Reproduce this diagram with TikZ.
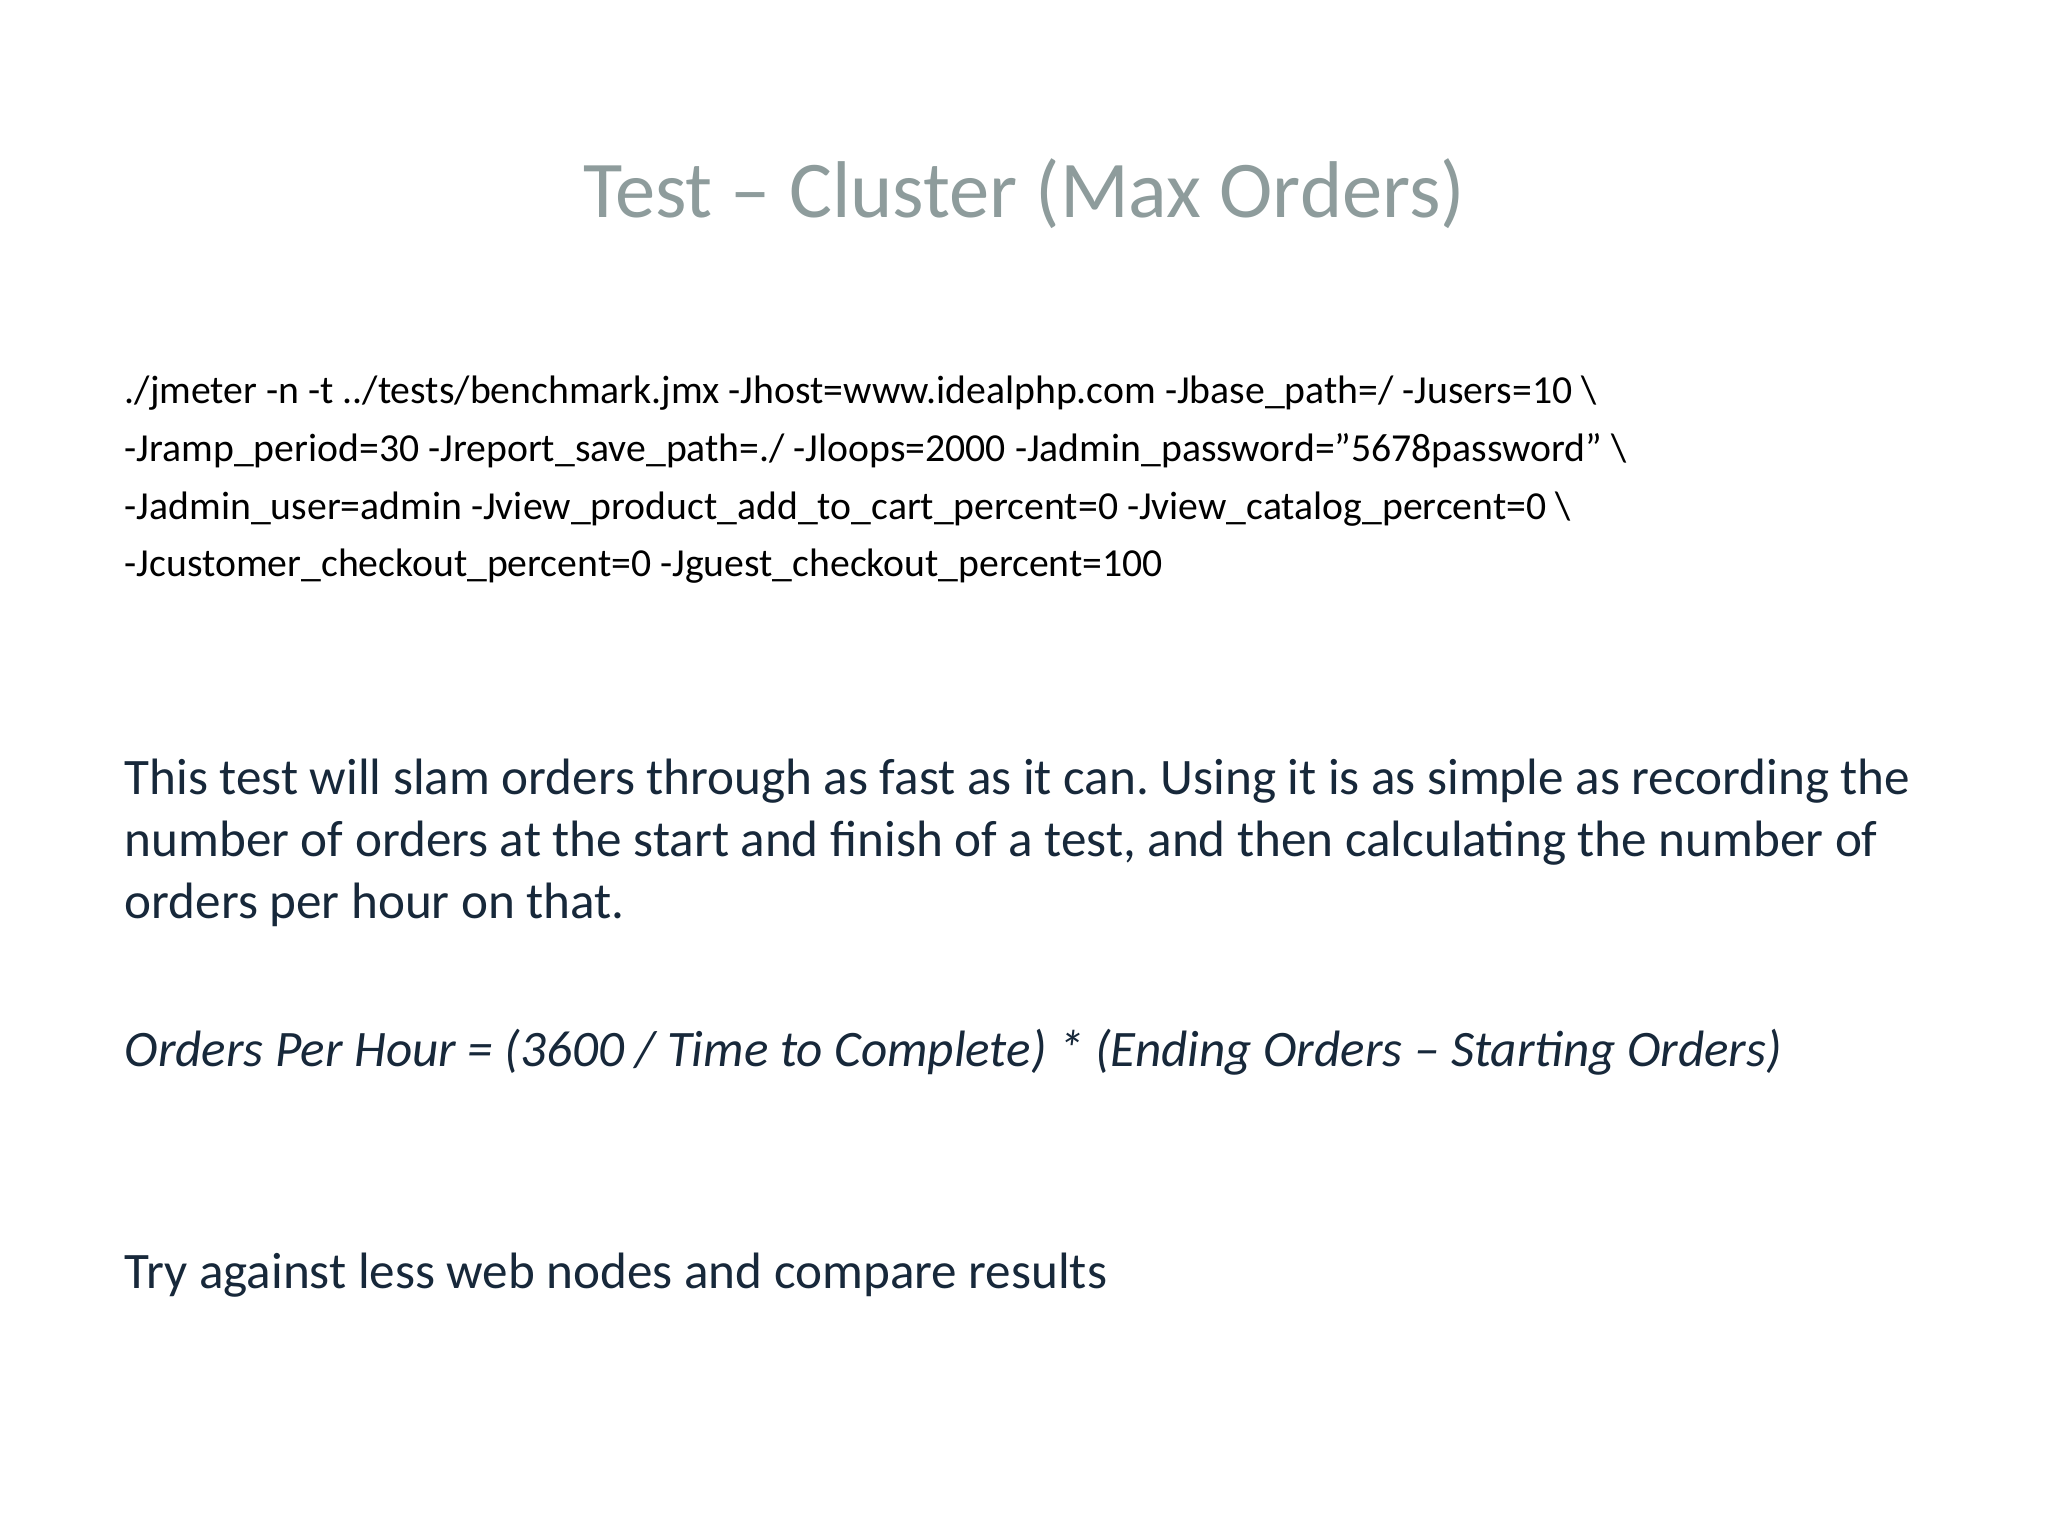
\documentclass[tikz,border=0pt]{standalone}
\usepackage{fontspec}
\setmainfont{Carlito}
\frenchspacing
\definecolor{titlec}{HTML}{8E9C9C}
\definecolor{txt}{HTML}{17283A}
\begin{document}
\begin{tikzpicture}[
  codeline/.style={anchor=base west,inner sep=0pt,text=black,font=\fontsize{11.3pt}{13pt}\selectfont},
  bodyline/.style={anchor=base west,inner sep=0pt,text=txt,font=\fontsize{14.55pt}{17pt}\selectfont}]
\useasboundingbox[fill=white] (0,0) rectangle (20.48,-15.36);
\node[anchor=base,inner sep=0pt,text=titlec,font=\fontsize{22.9pt}{27pt}\selectfont] (title) at (10.24,-2.18) {Test -- Cluster (Max Orders)};
\node[codeline] (c1) at (1.24,-4.04) {./jmeter -n -t ../tests/benchmark.jmx -Jhost=www.idealphp.com -Jbase\_path=/ -Jusers=10 \textbackslash};
\node[codeline] (c2) at (1.24,-4.62) {-Jramp\_period=30 -Jreport\_save\_path=./ -Jloops=2000 -Jadmin\_password=\symbol{"22}5678password\symbol{"22} \textbackslash};
\node[codeline] (c3) at (1.24,-5.20) {-Jadmin\_user=admin -Jview\_product\_add\_to\_cart\_percent=0 -Jview\_catalog\_percent=0 \textbackslash};
\node[codeline] (c4) at (1.24,-5.77) {-Jcustomer\_checkout\_percent=0 -Jguest\_checkout\_percent=100};
\node[bodyline] (p1) at (1.24,-7.95) {This test will slam orders through as fast as it can. Using it is as simple as recording the};
\node[bodyline] (p2) at (1.24,-8.57) {number of orders at the start and finish of a test, and then calculating the number of};
\node[bodyline] (p3) at (1.24,-9.18) {orders per hour on that.};
\node[bodyline,font=\fontsize{14.55pt}{17pt}\selectfont\itshape] (f) at (1.24,-10.66) {Orders Per Hour = (3600 / Time to Complete) * (Ending Orders -- Starting Orders)};
\node[bodyline] (t) at (1.24,-12.88) {Try against less web nodes and compare results};
\end{tikzpicture}
\end{document}
